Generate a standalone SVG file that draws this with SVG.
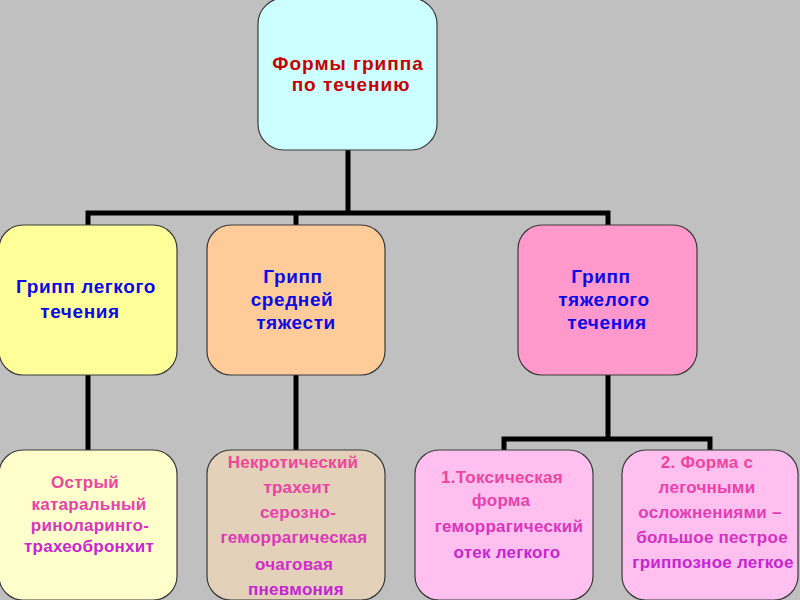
<svg xmlns="http://www.w3.org/2000/svg" width="800" height="600" viewBox="0 0 800 600">
<style>
.box{stroke:#3a3a3a;stroke-width:1.2}
.conn{stroke:#000;stroke-width:5;fill:none;stroke-linecap:square}
text{font-family:"Liberation Sans",Arial,sans-serif;font-weight:bold;text-anchor:middle}
.t0{fill:#c80000;font-size:19px;letter-spacing:1px}
.t1{fill:#0a0ae6;font-size:19px;letter-spacing:0.6px}
.t2{fill:url(#pg);font-size:17px;letter-spacing:0.25px}
</style>
<defs>
<linearGradient id="pg" x1="0" y1="0" x2="0" y2="1">
<stop offset="0" stop-color="#f2449a"/>
<stop offset="0.45" stop-color="#e73fae"/>
<stop offset="1" stop-color="#c01fd8"/>
</linearGradient>
</defs>
<rect width="800" height="600" fill="#c0c0c0"/>
<g id="connectors">
<path class="conn" d="M348 150V213M88 213H608M88 213V225M296 213V225M608 213V225"/>
<path class="conn" d="M88 375V450M296 375V450M608 375V439M504 439H710M504 439V450M710 439V450"/>
</g>
<g id="root">
<rect class="box" x="258" y="-2" width="179" height="152" rx="26" fill="#ccffff"/>
<text class="t0"><tspan x="348" y="70">Формы гриппа</tspan><tspan x="351" y="91">по течению</tspan></text>
</g>
<g id="light">
<rect class="box" x="-1" y="225" width="178" height="150" rx="24" fill="#ffff99"/>
<text class="t1"><tspan x="86" y="293">Грипп легкого</tspan><tspan x="80" y="318">течения</tspan></text>
</g>
<g id="medium">
<rect class="box" x="207" y="225" width="178" height="150" rx="24" fill="#ffcc99"/>
<text class="t1"><tspan x="293" y="283">Грипп</tspan><tspan x="292" y="306">средней</tspan><tspan x="296" y="329">тяжести</tspan></text>
</g>
<g id="heavy">
<rect class="box" x="518" y="225" width="179" height="150" rx="24" fill="#ff99cc"/>
<text class="t1"><tspan x="601" y="283">Грипп</tspan><tspan x="604" y="306">тяжелого</tspan><tspan x="607" y="329">течения</tspan></text>
</g>
<g id="light-form">
<rect class="box" x="-1" y="450" width="178" height="150" rx="24" fill="#ffffcc"/>
<text class="t2"><tspan x="85" y="488">Острый</tspan><tspan x="89" y="510">катаральный</tspan><tspan x="90" y="531">риноларинго-</tspan><tspan x="89" y="552">трахеобронхит</tspan></text>
</g>
<g id="medium-form">
<rect class="box" x="207" y="450" width="178" height="150" rx="24" fill="#e3d1b9"/>
<text class="t2"><tspan x="293" y="468">Некротический</tspan><tspan x="297" y="493">трахеит</tspan><tspan x="298" y="518">серозно-</tspan><tspan x="294" y="543">геморрагическая</tspan><tspan x="294" y="570">очаговая</tspan><tspan x="296" y="595">пневмония</tspan></text>
</g>
<g id="toxic">
<rect class="box" x="415" y="450" width="178" height="150" rx="24" fill="#ffc0f0"/>
<text class="t2"><tspan x="502" y="483">1.Токсическая</tspan><tspan x="501" y="506">форма</tspan><tspan x="509" y="532">геморрагический</tspan><tspan x="507" y="558">отек легкого</tspan></text>
</g>
<g id="pulmonary">
<rect class="box" x="622" y="450" width="176" height="150" rx="24" fill="#ffc0f0"/>
<text class="t2"><tspan x="707" y="468">2. Форма с</tspan><tspan x="707" y="493">легочными</tspan><tspan x="710" y="518">осложнениями –</tspan><tspan x="712" y="543">большое пестрое</tspan><tspan x="713" y="568">гриппозное легкое</tspan></text>
</g>
</svg>
